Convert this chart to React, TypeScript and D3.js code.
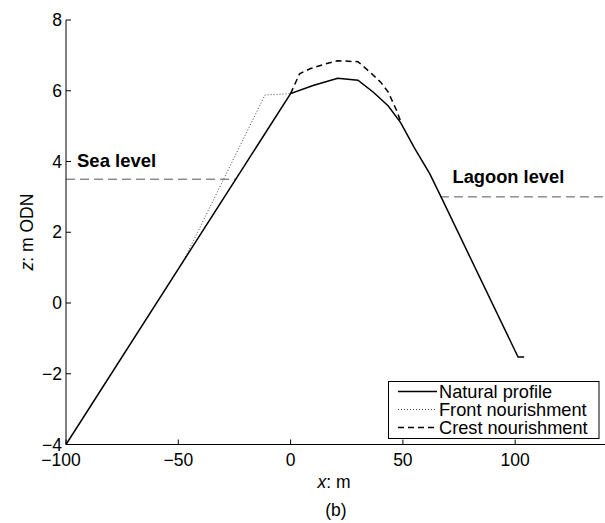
import React from "react";
import * as d3 from "d3";

// Beach profile cross-sections (x: m, z: m ODN)
const naturalX = [-100, 0, 10, 21, 30, 37, 43.5, 49, 55, 62, 67, 101.3, 104];
const naturalZ = [-4, 5.92, 6.15, 6.35, 6.3, 5.95, 5.57, 5.1, 4.4, 3.65, 3.0, -1.53, -1.53];

const frontX = [-48, -11.4, 0];
const frontZ = [1.15, 5.88, 5.92];

const crestX = [0, 4, 8.6, 15, 21, 30, 35.3, 40, 43.5, 47.2, 49.4];
const crestZ = [5.92, 6.48, 6.62, 6.75, 6.85, 6.82, 6.53, 6.25, 5.96, 5.44, 5.07];

const seaLevel = 3.5;
const seaLevelEndX = -24.2;
const lagoonLevel = 3.0;
const lagoonLevelStartX = 66.5;

const xTicks = [-100, -50, 0, 50, 100];
const yTicks = [-4, -2, 0, 2, 4, 6, 8];

const legendItems = [
  { label: "Natural profile", dash: "none", width: 1.5, color: "#000" },
  { label: "Front nourishment", dash: "1,2", width: 1, color: "#444" },
  { label: "Crest nourishment", dash: "6,4", width: 1.5, color: "#000" },
];

const W = 605;
const H = 523;
const left = 66;
const right = 605;
const top = 20;
const bottom = 444.5;
const font = "'Liberation Sans', Arial, Helvetica, sans-serif";

export default function App() {
  const x = d3.scaleLinear().domain([-100, 140]).range([left, right]);
  const y = d3.scaleLinear().domain([-4, 8]).range([bottom, top]);

  const line = d3
    .line<[number, number]>()
    .x((d) => x(d[0]))
    .y((d) => y(d[1]));

  const zip = (xs: number[], zs: number[]) =>
    xs.map((v, i) => [v, zs[i]] as [number, number]);

  const legX = 388.5;
  const legY = 381.5;
  const legW = 210.5;
  const legH = 57;

  return (
    <svg
      width={W}
      height={H}
      style={{ position: "absolute", left: 0, top: 0, background: "#fff" }}
      fontFamily={font}
    >
      <rect width={W} height={H} fill="#fff" />

      {/* water levels */}
      <line
        x1={x(-100)}
        x2={x(seaLevelEndX)}
        y1={y(seaLevel)}
        y2={y(seaLevel)}
        stroke="#555"
        strokeWidth={1}
        strokeDasharray="9,5"
      />
      <line
        x1={x(lagoonLevelStartX)}
        x2={x(140)}
        y1={y(lagoonLevel)}
        y2={y(lagoonLevel)}
        stroke="#555"
        strokeWidth={1}
        strokeDasharray="9,5"
      />
      <text x={77} y={167} fontSize={18.5} fontWeight="bold" fill="#000">
        Sea level
      </text>
      <text x={452.5} y={183} fontSize={18.3} fontWeight="bold" fill="#000">
        Lagoon level
      </text>

      {/* profiles */}
      <path
        d={line(zip(frontX, frontZ)) || ""}
        fill="none"
        stroke="#444"
        strokeWidth={1}
        strokeDasharray="1,2"
      />
      <path
        d={line(zip(crestX, crestZ)) || ""}
        fill="none"
        stroke="#000"
        strokeWidth={1.5}
        strokeDasharray="6,4"
      />
      <path
        d={line(zip(naturalX, naturalZ)) || ""}
        fill="none"
        stroke="#000"
        strokeWidth={1.5}
      />

      {/* axes */}
      <line x1={left} x2={left} y1={top} y2={bottom} stroke="#000" strokeWidth={1} />
      <line x1={left} x2={right} y1={bottom} y2={bottom} stroke="#000" strokeWidth={1} />
      {yTicks.map((t) => (
        <g key={"y" + t}>
          <line x1={left} x2={left + 5} y1={y(t)} y2={y(t)} stroke="#000" />
          <text
            x={left - 4}
            y={y(t)}
            dy="0.35em"
            textAnchor="end"
            fontSize={17.5}
            fill="#000"
          >
            {t < 0 ? "\u2212" + Math.abs(t) : t}
          </text>
        </g>
      ))}
      {xTicks.map((t, i) => (
        <g key={"x" + t}>
          <line x1={x(t)} x2={x(t)} y1={bottom} y2={bottom - 5} stroke="#000" />
          <text
            x={x(t)}
            dx={i === 0 ? -5 : 0}
            y={466}
            textAnchor="middle"
            fontSize={17.5}
            fill="#000"
          >
            {t < 0 ? "\u2212" + Math.abs(t) : t}
          </text>
        </g>
      ))}

      {/* axis titles */}
      <text x={334} y={488} textAnchor="middle" fontSize={17.5} fill="#000">
        <tspan fontStyle="italic">x</tspan>: m
      </text>
      <text
        transform={`translate(33, 232) rotate(-90)`}
        textAnchor="middle"
        fontSize={17.5}
        fill="#000"
      >
        <tspan fontStyle="italic">z</tspan>: m ODN
      </text>
      <text x={336} y={516} textAnchor="middle" fontSize={17.5} fill="#000">
        (b)
      </text>

      {/* legend */}
      <rect
        x={legX}
        y={legY}
        width={legW}
        height={legH}
        fill="#fff"
        stroke="#000"
        strokeWidth={1}
      />
      {legendItems.map((it, i) => {
        const cy = 391.5 + i * 18;
        return (
          <g key={it.label}>
            <line
              x1={398}
              x2={437}
              y1={cy}
              y2={cy}
              stroke={it.color}
              strokeWidth={it.width}
              strokeDasharray={it.dash}
            />
            <text x={439} y={cy} dy="0.36em" fontSize={18.2} fill="#000">
              {it.label}
            </text>
          </g>
        );
      })}
    </svg>
  );
}
